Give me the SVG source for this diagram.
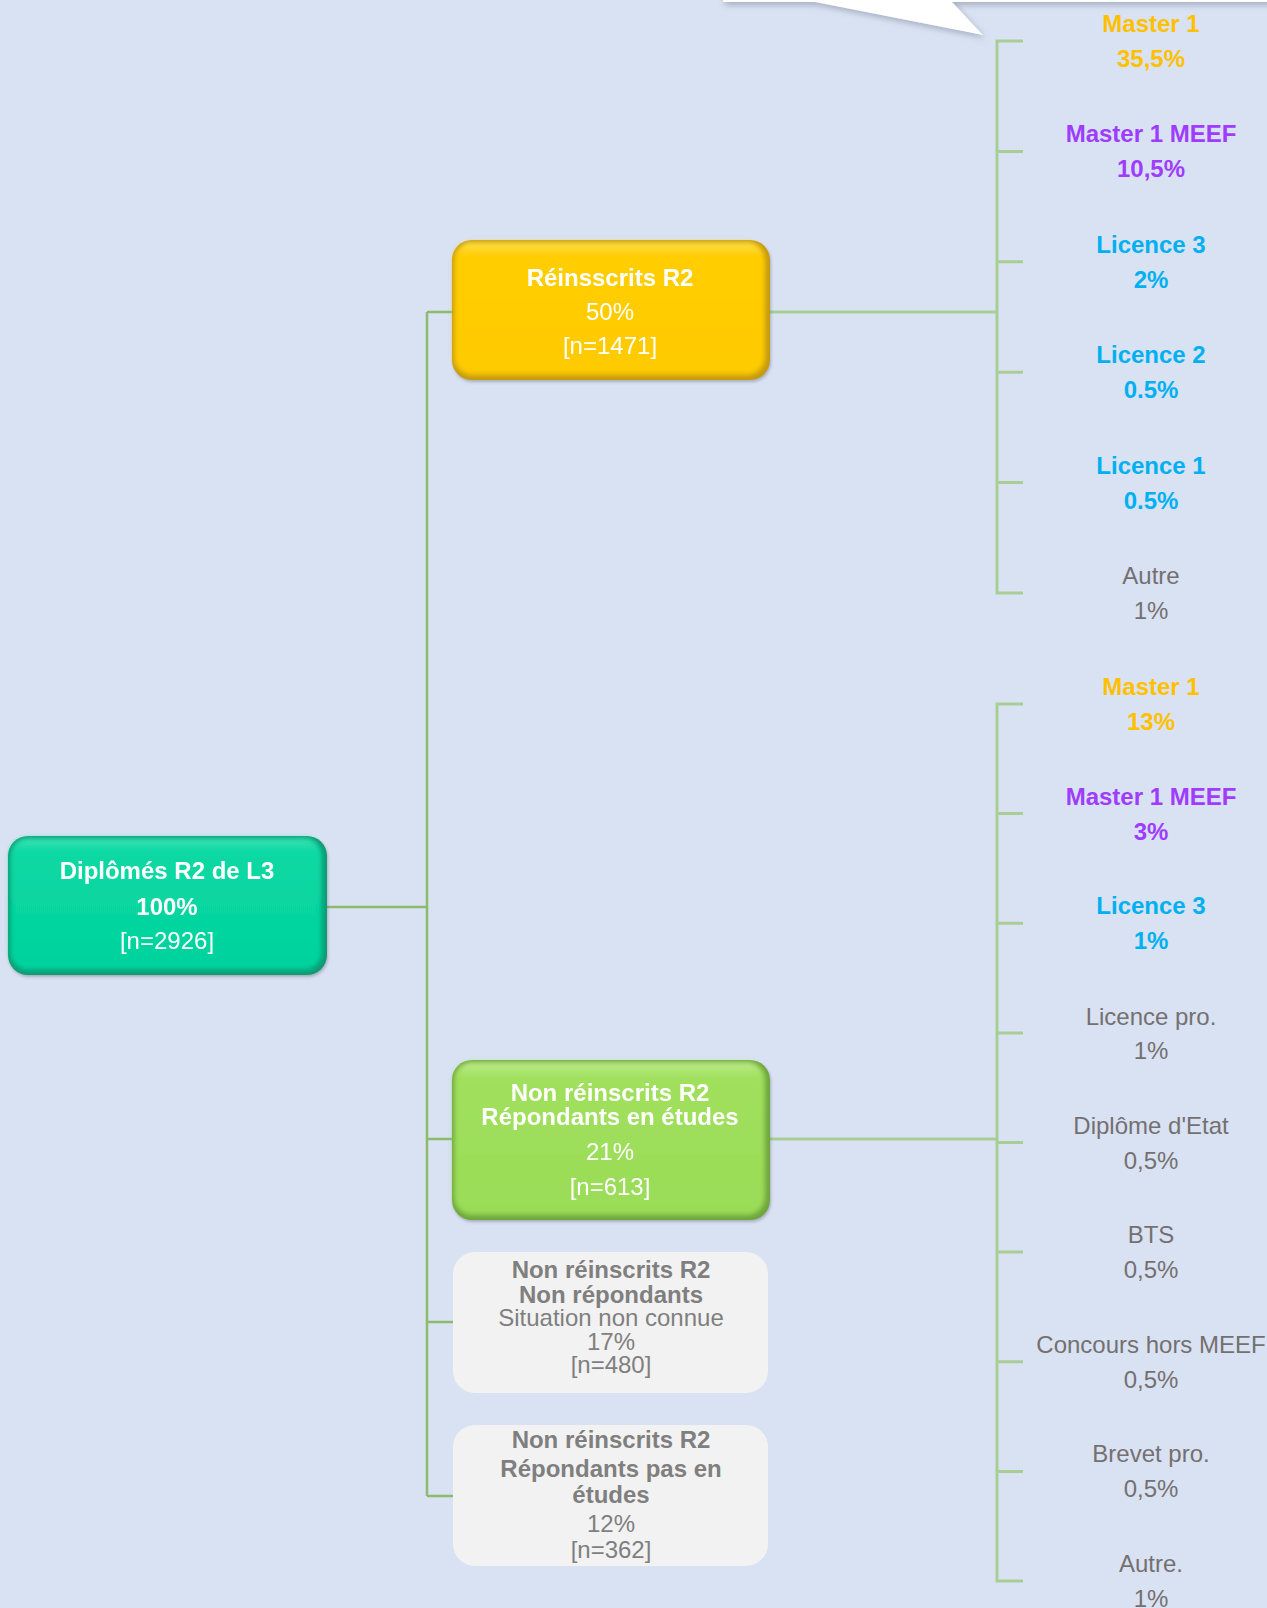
<svg xmlns="http://www.w3.org/2000/svg" width="1267" height="1608" viewBox="0 0 1267 1608">
  <defs>
    <linearGradient id="gTeal" x1="0" y1="0" x2="0" y2="1">
      <stop offset="0" stop-color="#3fe2b6"/>
      <stop offset="0.1" stop-color="#08d9a3"/>
      <stop offset="1" stop-color="#05d29d"/>
    </linearGradient>
    <linearGradient id="gYellow" x1="0" y1="0" x2="0" y2="1">
      <stop offset="0" stop-color="#ffe04a"/>
      <stop offset="0.1" stop-color="#ffcd05"/>
      <stop offset="1" stop-color="#fecb00"/>
    </linearGradient>
    <linearGradient id="gGreen" x1="0" y1="0" x2="0" y2="1">
      <stop offset="0" stop-color="#bdeb8a"/>
      <stop offset="0.1" stop-color="#a0e05d"/>
      <stop offset="1" stop-color="#9adc57"/>
    </linearGradient>
    <filter id="shadow" x="-10%" y="-50%" width="120%" height="200%">
      <feGaussianBlur in="SourceAlpha" stdDeviation="3"/>
      <feOffset dx="2" dy="3" result="b"/>
      <feFlood flood-color="#7a8596" flood-opacity="0.55"/>
      <feComposite in2="b" operator="in"/>
      <feMerge><feMergeNode/><feMergeNode in="SourceGraphic"/></feMerge>
    </filter>
    <filter id="nshadow" x="-10%" y="-10%" width="120%" height="130%">
      <feGaussianBlur in="SourceAlpha" stdDeviation="1.5"/>
      <feOffset dx="1" dy="2" result="b"/>
      <feFlood flood-color="#5a6070" flood-opacity="0.4"/>
      <feComposite in2="b" operator="in"/>
      <feMerge><feMergeNode/><feMergeNode in="SourceGraphic"/></feMerge>
    </filter>
    <filter id="soft" x="-5%" y="-5%" width="110%" height="110%">
      <feGaussianBlur stdDeviation="2.5"/>
    </filter>
  </defs>
  <style>
    .bg { fill: #d9e2f3; }
    .trunk { stroke: #8bbb6b; stroke-width: 2.5; fill: none; }
    .brk { stroke: #a9ce95; stroke-width: 3; fill: none; }
    text { font-family: "Liberation Sans", Arial, sans-serif; font-size: 24px; text-anchor: middle; }
    .b { font-weight: bold; }
    .w { fill: #ffffff; }
    .g { fill: #7f7f7f; }
    .lg { fill: #747070; }
    .or { fill: #ffc000; font-weight: bold; }
    .pu { fill: #9e3cff; font-weight: bold; }
    .cy { fill: #00b0f0; font-weight: bold; }
    .edgeT { fill: #0a9a73; }
    .edgeY { fill: #c49a10; }
    .edgeG { fill: #6ea53c; }
    .grey { fill: #f2f2f2; }
  </style>

  <rect class="bg" x="0" y="0" width="1267" height="1608"/>

  <!-- callout (cut off at top) -->
  <g id="callout" filter="url(#shadow)">
    <path d="M723,-40 L1290,-40 L1290,2 L952,2 L983,35 L815,2 L723,2 Z" fill="#ffffff"/>
  </g>

  <!-- connectors -->
  <g id="connectors">
    <path class="trunk" d="M327,907 H427 M427,312 V1496 M427,312 H452 M427,1139 H452 M427,1322 H453 M427,1496 H453"/>
    <path class="brk" d="M770,312 H997 M770,1139 H997"/>
    <path class="brk" d="M1023,41 H997 V593 H1023 M997,151.4 H1023 M997,261.8 H1023 M997,372.2 H1023 M997,482.6 H1023"/>
    <path class="brk" d="M1023,704 H997 V1581 H1023 M997,813.6 H1023 M997,923.3 H1023 M997,1032.9 H1023 M997,1142.5 H1023 M997,1252.1 H1023 M997,1361.8 H1023 M997,1471.4 H1023"/>
  </g>

  <!-- root node -->
  <g id="node-root" filter="url(#nshadow)">
    <rect class="edgeT" x="8" y="836" width="319" height="139" rx="20"/>
    <rect x="10" y="838" width="312" height="132" rx="18" fill="url(#gTeal)" filter="url(#soft)"/>
    <text class="b w" x="167" y="879">Diplômés R2 de L3</text>
    <text class="b w" x="167" y="915">100%</text>
    <text class="w" x="167" y="949">[n=2926]</text>
  </g>

  <!-- reinscrits -->
  <g id="node-reinscrits" filter="url(#nshadow)">
    <rect class="edgeY" x="452" y="240" width="318" height="140" rx="20"/>
    <rect x="454" y="242" width="311" height="133" rx="18" fill="url(#gYellow)" filter="url(#soft)"/>
    <text class="b w" x="610" y="286">Réinsscrits R2</text>
    <text class="w" x="610" y="320">50%</text>
    <text class="w" x="610" y="354">[n=1471]</text>
  </g>

  <!-- non reinscrits en etudes -->
  <g id="node-etudes" filter="url(#nshadow)">
    <rect class="edgeG" x="452" y="1060" width="318" height="160" rx="20"/>
    <rect x="454" y="1062" width="311" height="153" rx="18" fill="url(#gGreen)" filter="url(#soft)"/>
    <text class="b w" x="610" y="1101">Non réinscrits R2</text>
    <text class="b w" x="610" y="1125">Répondants en études</text>
    <text class="w" x="610" y="1160">21%</text>
    <text class="w" x="610" y="1195">[n=613]</text>
  </g>

  <!-- non repondants -->
  <g id="node-nonrep">
    <rect class="grey" x="453" y="1252" width="315" height="141" rx="22"/>
    <text class="b g" x="611" y="1278">Non réinscrits R2</text>
    <text class="b g" x="611" y="1303">Non répondants</text>
    <text class="g" x="611" y="1326">Situation non connue</text>
    <text class="g" x="611" y="1350">17%</text>
    <text class="g" x="611" y="1373">[n=480]</text>
  </g>

  <!-- pas en etudes -->
  <g id="node-pasetudes">
    <rect class="grey" x="453" y="1425" width="315" height="141" rx="22"/>
    <text class="b g" x="611" y="1448">Non réinscrits R2</text>
    <text class="b g" x="611" y="1477">Répondants pas en</text>
    <text class="b g" x="611" y="1503">études</text>
    <text class="g" x="611" y="1532">12%</text>
    <text class="g" x="611" y="1558">[n=362]</text>
  </g>

  <!-- upper leaves -->
  <g id="leaf-u1"><text class="or" x="1151" y="32">Master 1</text><text class="or" x="1151" y="67">35,5%</text></g>
  <g id="leaf-u2"><text class="pu" x="1151" y="142.4">Master 1 MEEF</text><text class="pu" x="1151" y="177.4">10,5%</text></g>
  <g id="leaf-u3"><text class="cy" x="1151" y="252.8">Licence 3</text><text class="cy" x="1151" y="287.8">2%</text></g>
  <g id="leaf-u4"><text class="cy" x="1151" y="363.2">Licence 2</text><text class="cy" x="1151" y="398.2">0.5%</text></g>
  <g id="leaf-u5"><text class="cy" x="1151" y="473.6">Licence 1</text><text class="cy" x="1151" y="508.6">0.5%</text></g>
  <g id="leaf-u6"><text class="lg" x="1151" y="584">Autre</text><text class="lg" x="1151" y="619">1%</text></g>

  <!-- lower leaves -->
  <g id="leaf-l1"><text class="or" x="1151" y="695">Master 1</text><text class="or" x="1151" y="730">13%</text></g>
  <g id="leaf-l2"><text class="pu" x="1151" y="804.6">Master 1 MEEF</text><text class="pu" x="1151" y="839.6">3%</text></g>
  <g id="leaf-l3"><text class="cy" x="1151" y="914.3">Licence 3</text><text class="cy" x="1151" y="949.3">1%</text></g>
  <g id="leaf-l4"><text class="lg" x="1151" y="1024.9">Licence pro.</text><text class="lg" x="1151" y="1059">1%</text></g>
  <g id="leaf-l5"><text class="lg" x="1151" y="1133.5">Diplôme d'Etat</text><text class="lg" x="1151" y="1168.5">0,5%</text></g>
  <g id="leaf-l6"><text class="lg" x="1151" y="1243.1">BTS</text><text class="lg" x="1151" y="1278.1">0,5%</text></g>
  <g id="leaf-l7"><text class="lg" x="1151" y="1352.8">Concours hors MEEF</text><text class="lg" x="1151" y="1387.8">0,5%</text></g>
  <g id="leaf-l8"><text class="lg" x="1151" y="1462.4">Brevet pro.</text><text class="lg" x="1151" y="1497.4">0,5%</text></g>
  <g id="leaf-l9"><text class="lg" x="1151" y="1572">Autre.</text><text class="lg" x="1151" y="1607">1%</text></g>
</svg>
